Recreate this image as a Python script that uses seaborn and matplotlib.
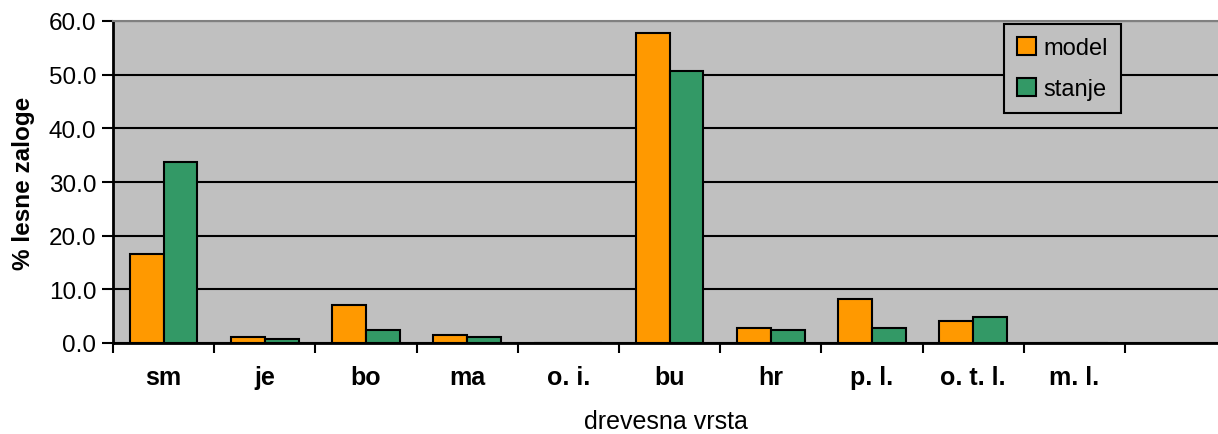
import pandas as pd
import numpy as np
import seaborn as sns
import matplotlib.pyplot as plt

# --- Data ---
species = ['sm', 'je', 'bo', 'ma', 'o. i.', 'bu', 'hr', 'p. l.', 'o. t. l.', 'm. l.']
model = [16.6, 1.1, 7.1, 1.5, 0.0, 57.8, 2.8, 8.2, 4.1, 0.0]
stanje = [33.7, 0.7, 2.4, 1.1, 0.0, 50.7, 2.4, 2.8, 4.8, 0.0]
series_names = ['model', 'stanje']
colors = ['#FF9900', '#339966']

df = pd.DataFrame({'vrsta': species, 'model': model, 'stanje': stanje})
melted = df.melt(id_vars='vrsta', var_name='serija', value_name='delez')

sns.set_style('white')
plt.rcParams['font.family'] = ['Liberation Sans', 'DejaVu Sans']
plt.rcParams['text.color'] = 'black'
plt.rcParams['axes.labelcolor'] = 'black'
plt.rcParams['xtick.color'] = 'black'
plt.rcParams['ytick.color'] = 'black'

fig = plt.figure(figsize=(12.18, 4.35), dpi=100)
ax = fig.add_axes([113 / 1218, 1 - 344 / 435, 1 - 113 / 1218, 322 / 435])

sns.barplot(data=melted, x='vrsta', y='delez', hue='serija', order=species,
            hue_order=series_names, palette=colors, width=0.67,
            edgecolor='black', linewidth=1.5, saturation=1, ax=ax)

ax.set_facecolor('#C0C0C0')
ax.set_axisbelow(True)
ax.set_ylim(0, 60)
ax.set_yticks(np.arange(0, 61, 10))
ax.set_yticklabels([f'{v:.1f}' for v in np.arange(0, 61, 10)], fontsize=17.5)
ax.yaxis.grid(True, color='black', linewidth=1.5)
ax.xaxis.grid(False)

# category slots, one extra empty slot at the right
ax.set_xlim(-0.5, 10.42)
ax.set_xticks(range(len(species)))
ax.set_xticklabels(species, fontsize=18, fontweight='bold')
ax.set_xticks(np.arange(-0.5, 10.0, 1.0), minor=True)
ax.tick_params(axis='x', which='major', length=0, pad=16, bottom=False)
ax.tick_params(axis='x', which='minor', length=7, width=1.5, color='black',
               direction='out', bottom=True)
ax.tick_params(axis='y', length=8, width=1.5, color='black', direction='out', left=True, pad=4)

for side in ['left', 'bottom']:
    ax.spines[side].set_color('black')
    ax.spines[side].set_linewidth(2)
ax.spines['top'].set_color('#808080')
ax.spines['top'].set_linewidth(1.5)
ax.spines['right'].set_visible(False)

ax.set_xlabel('drevesna vrsta', fontsize=18, labelpad=14)
ax.set_ylabel('% lesne zaloge', fontsize=17.5, fontweight='bold', labelpad=10)

leg = ax.legend(loc='upper right', bbox_to_anchor=(0.912, 0.991), fontsize=17,
                frameon=True, fancybox=False, facecolor='#C0C0C0', edgecolor='black',
                handlelength=0.8, handleheight=0.8, handletextpad=0.3,
                labelspacing=0.8, borderpad=0.55, borderaxespad=0, title=None)
leg.get_frame().set_linewidth(1.5)
leg.get_frame().set_alpha(1)

fig.savefig('out.png', dpi=100)
